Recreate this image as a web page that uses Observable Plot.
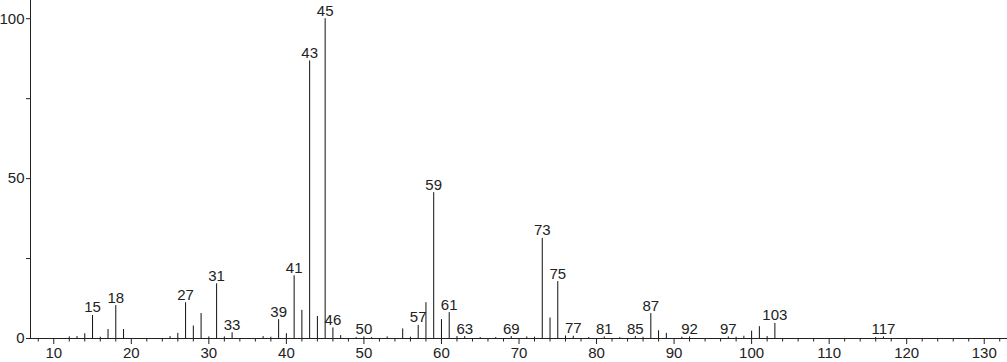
<!DOCTYPE html>
<html><head><meta charset="utf-8">
<script src="https://cdn.jsdelivr.net/npm/d3@7"></script>
<script src="https://cdn.jsdelivr.net/npm/@observablehq/plot@0.6"></script>
<style>body{margin:0;background:#fff;overflow:hidden}</style>
</head><body><div id="chart"></div>
<script>
// m/z values and relative intensities (%)
const mz =        [12, 13, 14, 15, 16, 17, 18, 19, 25, 26, 27, 28, 29, 30, 31, 32, 33, 37, 38, 39, 40, 41, 42, 43, 44, 45, 46, 47, 49, 50, 51, 53, 55, 56, 57, 58, 59, 60, 61, 62, 63, 65, 67, 69, 71, 72, 73, 74, 75, 76, 77, 79, 81, 83, 85, 86, 87, 88, 89, 91, 92, 97, 98, 99, 100, 101, 102, 103, 116, 117];
const intensity = [0.5,0.6,1.5,7.2,0.4,2.8,10.3,2.8,0.6,1.6,11.2,3.9,7.8,0.5,17.1,0.5,1.8,0.6,0.4,5.9,1.5,19.6,8.8,86.8,6.9,100,3.3,0.9,0.3,0.5,0.3,0.5,3.0,0.4,4.1,11.2,45.6,5.9,8.1,0.6,0.6,0.3,0.3,0.6,0.5,0.4,31.3,6.4,17.8,0.8,0.7,0.3,0.5,0.3,0.6,0.4,7.8,2.4,1.6,0.4,0.5,0.5,0.4,0.7,2.3,3.7,0.6,4.7,0.3,0.5];
const labeledMz = [15, 18, 27, 31, 33, 39, 41, 43, 45, 46, 50, 57, 59, 61, 63, 69, 73, 75, 77, 81, 85, 87, 92, 97, 103, 117];
const xTicks = [10, 20, 30, 40, 50, 60, 70, 80, 90, 100, 110, 120, 130];
const xMinorTicks = [8,12,14,16,18,22,24,26,28,32,34,36,38,42,44,46,48,52,54,56,58,62,64,66,68,72,74,76,78,82,84,86,88,92,94,96,98,102,104,106,108,112,114,116,118,122,124,126,128,132];
const yTicks = [0, 25, 50, 75, 100];
const yTickLabels = [0, 50, 100];

const peaks = mz.map((m, i) => ({mz: m, intensity: intensity[i]}));
const labels = peaks.filter(d => labeledMz.includes(d.mz));

const ink = "#222";
const fs = 15;
const chart = Plot.plot({
  width: 1007, height: 362,
  marginLeft: 30, marginRight: 0, marginTop: 0, marginBottom: 24,
  x: {domain: [7, 133], label: null},
  y: {domain: [0, 105.7], label: null},
  style: {fontFamily: "'Liberation Sans', Arial, sans-serif", fontSize: fs + "px", color: ink, background: "white"},
  marks: [
    Plot.ruleX(peaks, {x: "mz", y1: 0, y2: "intensity", stroke: "#111", strokeWidth: 1}),
    Plot.frame({anchor: "left", stroke: ink}),
    Plot.frame({anchor: "bottom", stroke: ink}),
    Plot.axisX({ticks: xTicks, tickSize: 6, tickPadding: 3, fontSize: fs, stroke: ink, fill: ink, label: null, tickFormat: d => String(d)}),
    Plot.axisX({ticks: xMinorTicks, tickSize: 3.5, stroke: ink, label: null, tickFormat: () => ""}),
    Plot.axisY({ticks: yTicks, tickSize: 4, tickPadding: 2, fontSize: fs, stroke: ink, fill: ink, label: null, tickFormat: d => yTickLabels.includes(d) ? String(d) : ""}),
    Plot.text(labels, {x: "mz", y: "intensity", text: d => String(d.mz), lineAnchor: "bottom", dy: -3, fontSize: fs, fill: ink})
  ]
});
document.getElementById("chart").append(chart);
</script>
</body></html>
